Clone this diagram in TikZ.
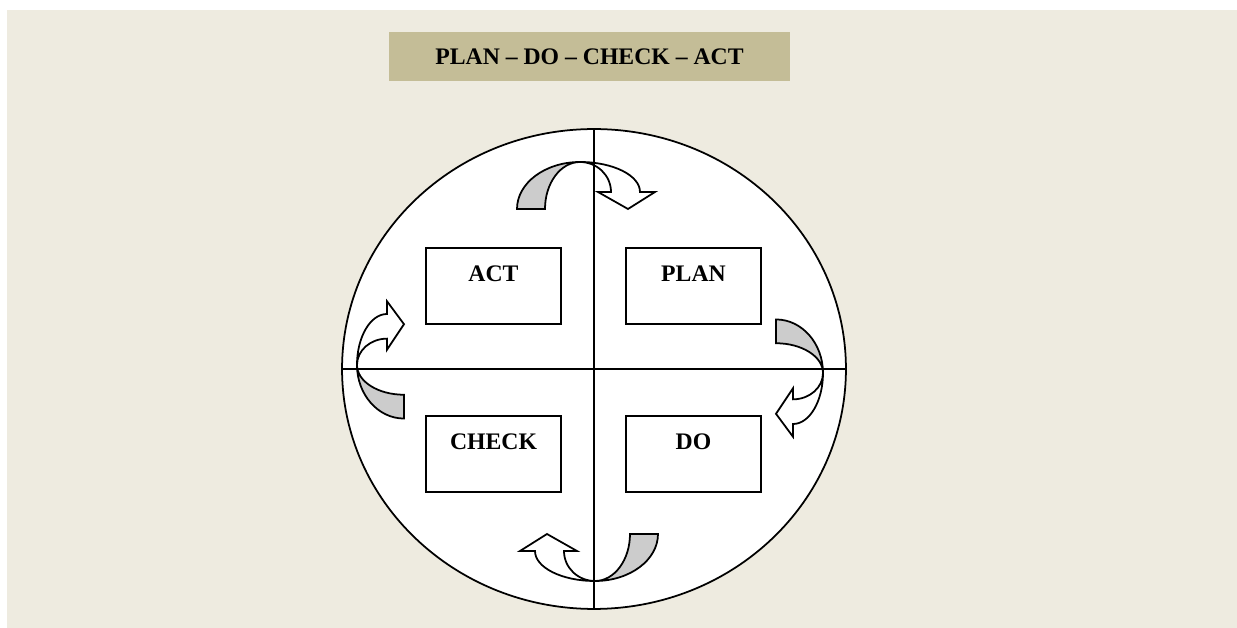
\documentclass[tikz,border=0pt]{standalone}
\usepackage{fontspec}
\setmainfont{Liberation Serif}
\usetikzlibrary{shapes.geometric}

\definecolor{panelbg}{HTML}{EEEBE0}
\definecolor{titlebg}{HTML}{C4BD97}
\definecolor{bandgray}{HTML}{CCCCCC}

\tikzset{
  every picture/.style={line width=1pt},
  heading/.style={fill=titlebg, minimum width=8.02cm, minimum height=0.98cm,
    inner sep=0pt, font=\fontsize{13.5}{16}\selectfont\bfseries},
  phase/.style={draw, fill=white, minimum width=2.7cm, minimum height=1.52cm,
    inner sep=0pt},
  phasetext/.style={font=\fontsize{13.5}{16}\selectfont\bfseries,
    anchor=center, yshift=-0.54cm},
  % curved turn arrow: grey back of the band, white front with its head
  turnarrow/.pic={
    \filldraw[fill=bandgray] (-63,-47)
      arc[start angle=180, end angle=90, x radius=63, y radius=47]
      arc[start angle=90, end angle=180, x radius=35, y radius=47] -- cycle;
    \filldraw[fill=white] (0,0)
      arc[start angle=90, end angle=0, x radius=60, y radius=30]
      -- (75,-30) -- (48,-47) -- (18,-30) -- (31,-30)
      arc[start angle=0, end angle=90, x radius=31, y radius=30] -- cycle;
  }
}

\begin{document}
\begin{tikzpicture}[x=0.02cm, y=0.02cm]

  % page and panel
  \fill[white] (-594,-259) rectangle (643,369);
  \fill[panelbg] (-587,-259) rectangle (643,359);
  \useasboundingbox (-594,-259) rectangle (643,369);

  % heading
  \node[heading] (title) at (-4.5,312.5) {PLAN -- DO -- CHECK -- ACT};

  % the cycle
  \node[draw, fill=white, ellipse, minimum width=10.08cm, minimum height=9.6cm,
    inner sep=0pt, outer sep=0pt] (cycle) at (0,0) {};

  % turn arrows round the cycle (the side ones a bit narrower)
  \pic at (-14,207) {turnarrow};
  \pic[rotate=-90, xscale=0.85] at (229,-4) {turnarrow};
  \pic[rotate=180] at (1,-212) {turnarrow};
  \pic[rotate=90, xscale=0.85] at (-237,4) {turnarrow};

  % quadrant lines
  \draw[line width=0.75pt] (cycle.north) -- (cycle.south);
  \draw[line width=0.75pt] (cycle.west) -- (cycle.east);

  % the four phases
  \node[phase, label={[phasetext]north:ACT}] (act) at (-100.5,83) {};
  \node[phase, label={[phasetext]north:PLAN}] (plan) at (99.5,83) {};
  \node[phase, label={[phasetext]north:CHECK}] (check) at (-100.5,-85) {};
  \node[phase, label={[phasetext]north:DO}] (do) at (99.5,-85) {};

\end{tikzpicture}
\end{document}
